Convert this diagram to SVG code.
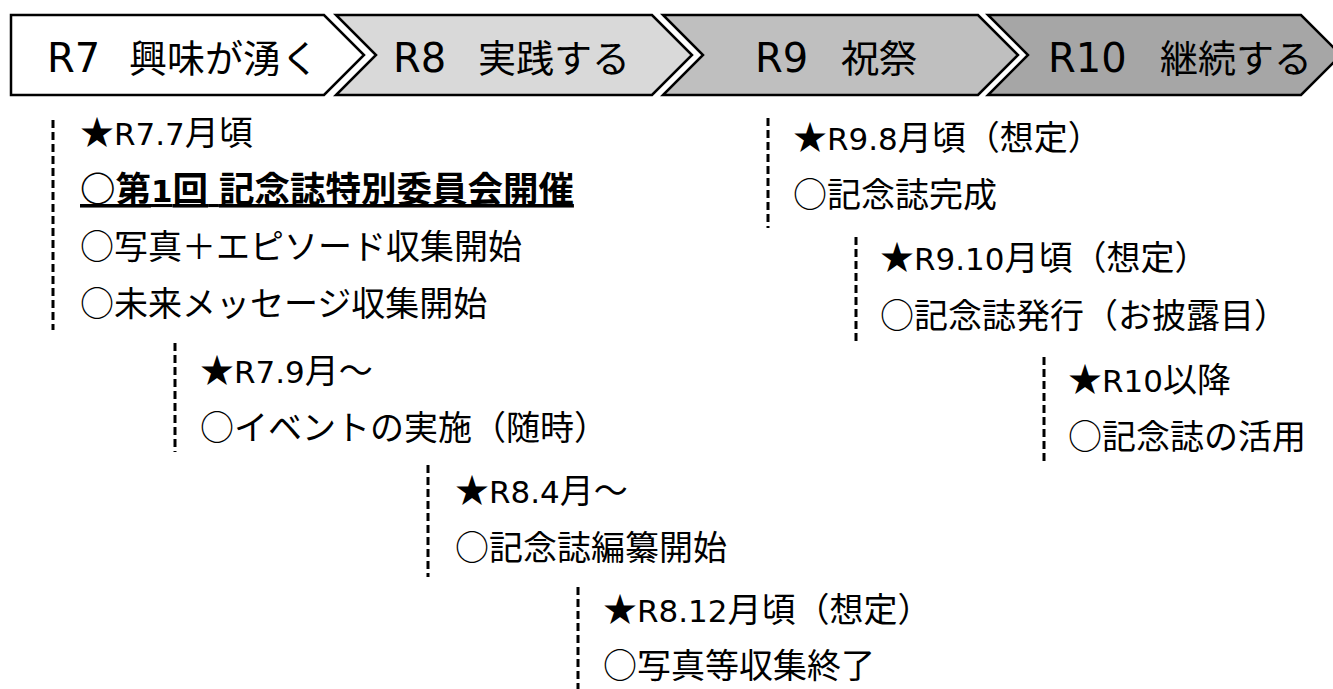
<svg xmlns="http://www.w3.org/2000/svg" width="1333" height="689" viewBox="0 0 1333 689">
<style>
.chev{stroke:#000;stroke-width:2.5;stroke-linejoin:miter}
.ttl{font-family:"Noto Sans CJK JP","Noto Sans",sans-serif;font-size:38px;fill:#000}
.tl{font-family:"DejaVu Sans","Noto Sans CJK JP",sans-serif;font-size:40px}
.body{font-family:"Noto Sans CJK JP","Noto Sans",sans-serif;font-size:34px;fill:#000}
.lat{font-family:"DejaVu Sans","Noto Sans CJK JP",sans-serif;font-size:31px}
.b{font-weight:bold;text-decoration:underline;font-size:35.5px}
.dash{stroke:#000;stroke-width:3;stroke-dasharray:8 4;fill:none}
</style>
<rect width="1333" height="689" fill="#fff"/>
<g id="phase-r7">
<path class="chev" fill="#ffffff" d="M11,15 H324 L364,55 L324,95 H11 Z"/>
<text class="ttl" y="72"><tspan class="tl" x="47">R7</tspan><tspan x="129">興味が湧く</tspan></text>
</g>
<g id="phase-r8">
<path class="chev" fill="#d9d9d9" d="M336,15 H652 L692,55 L652,95 H336 L376,55 Z"/>
<text class="ttl" y="72"><tspan class="tl" x="393">R8</tspan><tspan x="478">実践する</tspan></text>
</g>
<g id="phase-r9">
<path class="chev" fill="#bfbfbf" d="M663,15 H978 L1018,55 L978,95 H663 L703,55 Z"/>
<text class="ttl" y="72"><tspan class="tl" x="755">R9</tspan><tspan x="841">祝祭</tspan></text>
</g>
<g id="phase-r10">
<path class="chev" fill="#a6a6a6" d="M988,15 H1301 L1341,55 L1301,95 H988 L1028,55 Z"/>
<text class="ttl" y="72"><tspan class="tl" x="1048">R10</tspan><tspan x="1160">継続する</tspan></text>
</g>
<g id="connectors">
<line class="dash" x1="53" y1="120" x2="53" y2="330"/>
<line class="dash" x1="175" y1="343" x2="175" y2="452"/>
<line class="dash" x1="428" y1="465" x2="428" y2="577"/>
<line class="dash" x1="578" y1="587" x2="578" y2="689"/>
<line class="dash" x1="768" y1="118" x2="768" y2="228"/>
<line class="dash" x1="856" y1="237" x2="856" y2="345"/>
<line class="dash" x1="1044" y1="357" x2="1044" y2="462"/>
</g>
<g id="event-r7-7">
<text class="body" x="80" y="145">★<tspan class="lat">R7.7</tspan>月頃</text>
<text class="body b" x="80" y="202">○第<tspan class="lat">1</tspan>回<tspan class="lat"> </tspan>記念誌特別委員会開催</text>
<text class="body" x="80" y="259">○写真＋エピソード収集開始</text>
<text class="body" x="80" y="316">○未来メッセージ収集開始</text>
</g>
<g id="event-r7-9">
<text class="body" x="200" y="383">★<tspan class="lat">R7.9</tspan>月～</text>
<text class="body" x="200" y="440">○イベントの実施（随時）</text>
</g>
<g id="event-r8-4">
<text class="body" x="455" y="503">★<tspan class="lat">R8.4</tspan>月～</text>
<text class="body" x="455" y="560">○記念誌編纂開始</text>
</g>
<g id="event-r8-12">
<text class="body" x="603" y="622">★<tspan class="lat">R8.12</tspan>月頃（想定）</text>
<text class="body" x="603" y="678">○写真等収集終了</text>
</g>
<g id="event-r9-8">
<text class="body" x="793" y="150">★<tspan class="lat">R9.8</tspan>月頃（想定）</text>
<text class="body" x="793" y="207">○記念誌完成</text>
</g>
<g id="event-r9-10">
<text class="body" x="880" y="270">★<tspan class="lat">R9.10</tspan>月頃（想定）</text>
<text class="body" x="880" y="328">○記念誌発行（お披露目）</text>
</g>
<g id="event-r10">
<text class="body" x="1068" y="392">★<tspan class="lat">R10</tspan>以降</text>
<text class="body" x="1068" y="449">○記念誌の活用</text>
</g>
</svg>
